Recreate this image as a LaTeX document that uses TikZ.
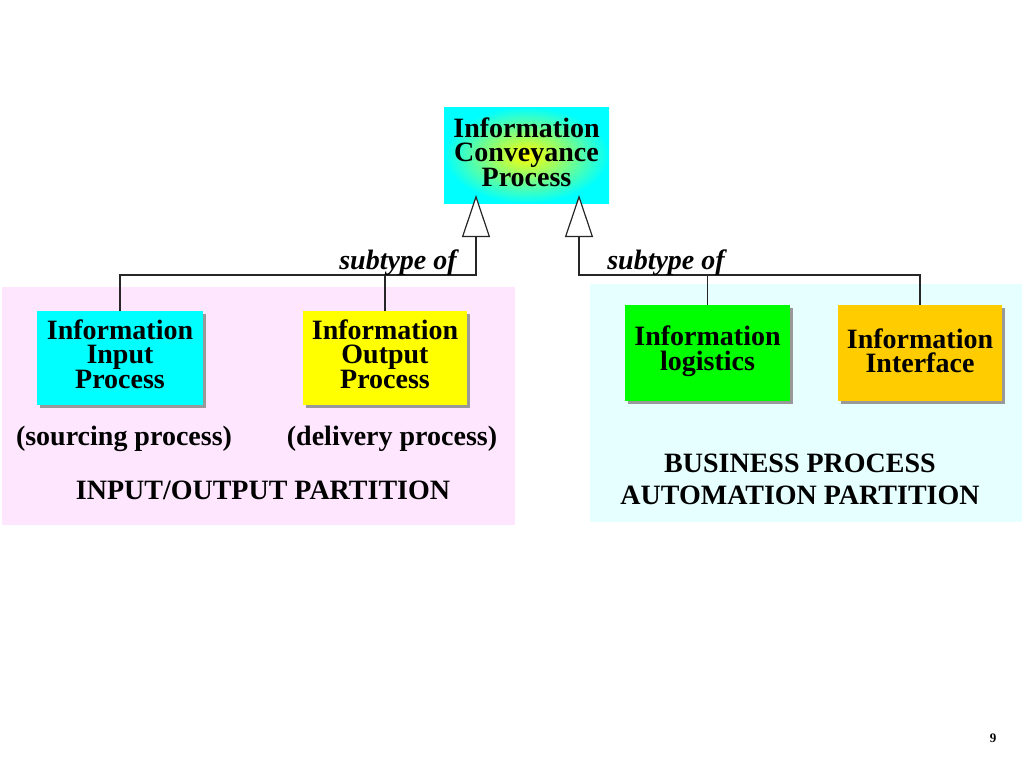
\documentclass[tikz,border=0pt]{standalone}
\usepackage{fontspec}
\setmainfont{Liberation Serif}
\usetikzlibrary{arrows.meta,shadows}
\definecolor{pinkbg}{HTML}{FFE6FF}
\definecolor{cyanbg}{HTML}{E6FFFF}
\definecolor{cyanbox}{HTML}{00FFFF}
\definecolor{yellowbox}{HTML}{FFFF00}
\definecolor{greenbox}{HTML}{00FF00}
\definecolor{orangebox}{HTML}{FFCC00}
\tikzset{
  procbox/.style={draw=none, minimum width=#1, inner sep=0pt,
    drop shadow={shadow xshift=3pt, shadow yshift=-3pt, fill=gray!80, opacity=1}},
  boxtext/.style={inner sep=0pt, align=center, font=\fontsize{28}{24.5}\selectfont\bfseries},
  lbl/.style={font=\fontsize{28}{32}\selectfont\bfseries, align=center, inner sep=0pt},
  conn/.style={line width=1.4pt, draw=black!85},
  subarrow/.style={conn, -{Triangle[fill=white, length=42pt, width=28pt, line width=1.2pt]}}
}
\begin{document}
\begin{tikzpicture}[x=1pt,y=-1pt]
\useasboundingbox (0,0) rectangle (1024,768);
\fill[white] (0,0) rectangle (1024,768);
% partitions
\fill[pinkbg] (2,287) rectangle (515,525);
\fill[cyanbg] (590,284) rectangle (1022,522);
% top node
\node[minimum width=165pt, minimum height=96pt, inner sep=0pt,
  shading=radial, inner color=yellowbox, outer color=cyanbox] (top) at (526.5,155) {};
\node[boxtext, yshift=3pt] (toptxt) at (top.center) {Information\\Conveyance\\Process};
% child boxes
\node[procbox=166pt, minimum height=94pt, fill=cyanbox] (inp) at (120,358) {};
\node[boxtext, yshift=4pt] (inptxt) at (inp.center) {Information\\Input\\Process};
\node[procbox=164pt, minimum height=94pt, fill=yellowbox] (outp) at (385,358) {};
\node[boxtext, yshift=4pt] (outptxt) at (outp.center) {Information\\Output\\Process};
\node[procbox=165pt, minimum height=96pt, fill=greenbox] (logi) at (707.5,353) {};
\node[boxtext, yshift=2pt] (logitxt) at (logi.center) {Information\\logistics};
\node[procbox=164pt, minimum height=96pt, fill=orangebox] (intf) at (920,353) {};
\node[boxtext, yshift=2pt] (intftxt) at (intf.center) {Information\\Interface};
% connectors
\coordinate (jl) at (476,275);
\coordinate (jr) at (579,275);
\coordinate (tipl) at (476,195);
\coordinate (tipr) at (579,195);
\draw[conn] (outp.north) -- (outp.north |- jl);
\draw[subarrow] (inp.north) |- (jl) -- (tipl);
\draw[conn] (logi.north) -- (logi.north |- jr);
\draw[subarrow] (intf.north) |- (jr) -- (tipr);
% labels
\node[font=\fontsize{28}{32}\selectfont\bfseries\itshape, inner sep=0pt] (subl) at (398,263) {subtype of};
\node[font=\fontsize{28}{32}\selectfont\bfseries\itshape, inner sep=0pt] (subr) at (666,263) {subtype of};
\node[lbl] (src) at (124,439) {(sourcing process)};
\node[lbl] (dlv) at (392,439) {(delivery process)};
\node[lbl] (iop) at (263,490) {INPUT/OUTPUT PARTITION};
\node[lbl] (bpa) at (800,479) {BUSINESS PROCESS\\AUTOMATION PARTITION};
\node[font=\fontsize{13}{15}\selectfont\bfseries, inner sep=0pt] (pg) at (993,738) {9};
\end{tikzpicture}
\end{document}
